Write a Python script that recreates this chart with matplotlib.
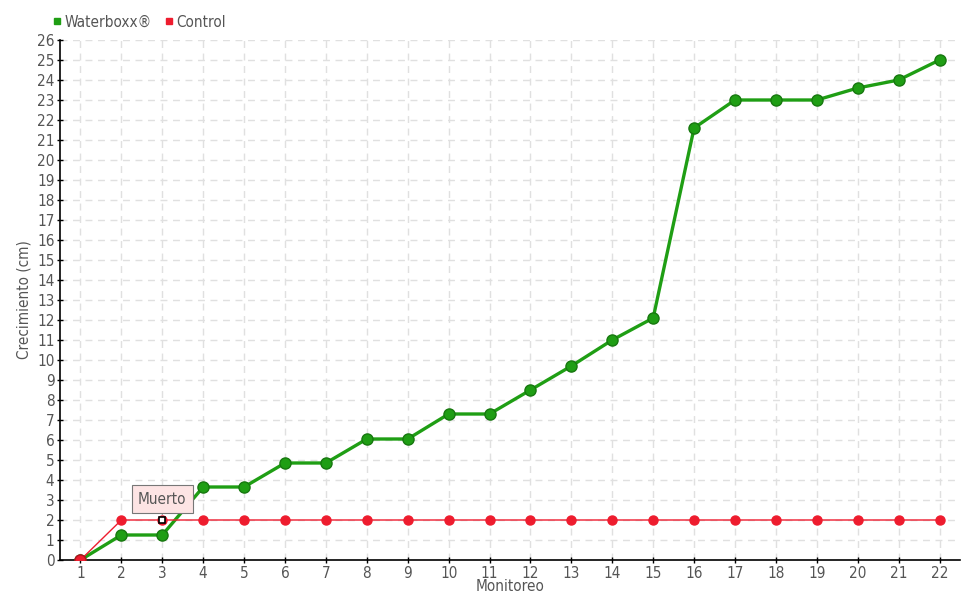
import matplotlib
matplotlib.use("Agg")
import matplotlib.pyplot as plt
from matplotlib.lines import Line2D

plt.rcParams['font.family'] = ['DejaVu Sans']
plt.rcParams['font.stretch'] = 'condensed'

monitoreo = list(range(1, 23))
waterboxx = [0, 1.25, 1.25, 3.65, 3.65, 4.85, 4.85, 6.05, 6.05, 7.3, 7.3,
             8.5, 9.7, 11.0, 12.1, 21.6, 23.0, 23.0, 23.0, 23.6, 24.0, 25.0]
control = [0] + [2] * 21
dead_index = 3
dead_label = "Muerto"
y_ticks = list(range(0, 27))

green = '#1f9e14'
red = '#ee1c2e'
txt = '#555555'

fig = plt.figure(figsize=(9.8, 6), dpi=100)
ax = fig.add_axes([60/980, 40/600, 900/980, 520/600])

ax.plot(monitoreo, waterboxx, color=green, lw=2.4, marker='o', ms=8,
        markerfacecolor=green, markeredgecolor='#17780f', markeredgewidth=1, zorder=3)
ax.plot(monitoreo, control, color=red, lw=1, marker='o', ms=6.5,
        markerfacecolor=red, markeredgecolor=red, zorder=4)
ax.plot([monitoreo[0]], [control[0]], marker='o', ms=8, color=red,
        markeredgecolor='#b0141f', zorder=5)
ax.plot([dead_index], [control[dead_index - 1]], marker='s', ms=5,
        markerfacecolor='white', markeredgecolor='black', markeredgewidth=1.2, zorder=6)

ax.annotate(dead_label, xy=(dead_index, control[dead_index - 1]),
            xytext=(dead_index, control[dead_index - 1] + 1.05),
            ha='center', va='center', fontsize=11, color=txt,
            bbox=dict(boxstyle='square,pad=0.4', fc='#fde4e4', ec='#777777', lw=0.8),
            arrowprops=dict(arrowstyle='-', color='#777777', lw=0.8,
                            shrinkA=0, shrinkB=4), zorder=7)

ax.set_xlim(0.5, 22.5)
ax.set_ylim(0, 26)
ax.set_xticks(monitoreo)
ax.set_yticks(y_ticks)
ax.tick_params(axis='both', labelsize=11, labelcolor=txt, length=4, width=1,
               direction='inout', color='black', pad=2)
for s in ['top', 'right']:
    ax.spines[s].set_visible(False)
for s in ['left', 'bottom']:
    ax.spines[s].set_color('black')
    ax.spines[s].set_linewidth(1.2)
ax.grid(True, color='#e0e0e0', ls=(0, (5, 4)), lw=1)
ax.set_axisbelow(True)

ax.set_xlabel('Monitoreo', fontsize=11, color=txt, labelpad=0)
ax.xaxis.set_label_coords(0.5, -0.036, transform=ax.transAxes)
ax.xaxis.label.set_va('top')
ax.set_ylabel('Crecimiento (cm)', fontsize=11, color=txt, labelpad=4)

handles = [Line2D([], [], ls='none', marker='s', ms=5, color=green),
           Line2D([], [], ls='none', marker='s', ms=5, color=red)]
leg = fig.legend(handles, ['Waterboxx®', 'Control'], loc='upper left',
                 bbox_to_anchor=(45/980, 1 - 7/600), ncol=2, frameon=False,
                 fontsize=11, handlelength=0.6, handletextpad=0.2,
                 columnspacing=0.8, borderpad=0)
for t in leg.get_texts():
    t.set_color(txt)

fig.savefig('out.png', dpi=100)
